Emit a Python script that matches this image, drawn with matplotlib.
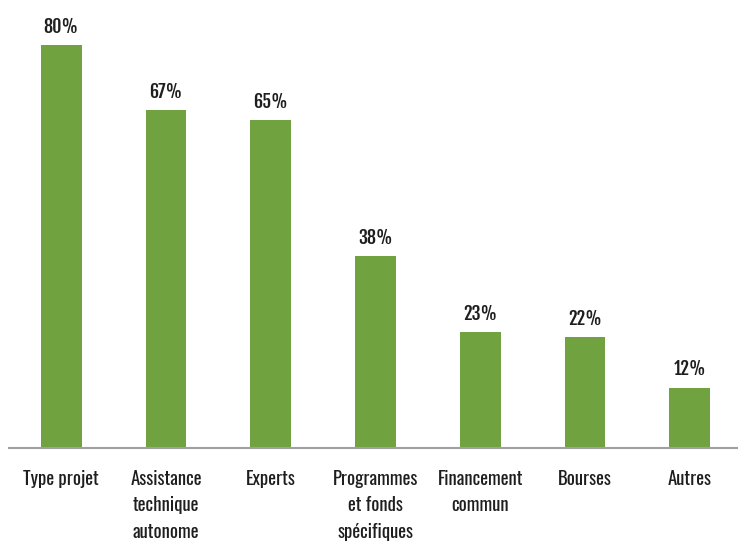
import matplotlib.pyplot as plt

categories = ["Type projet", "Assistance\ntechnique\nautonome", "Experts",
              "Programmes\net fonds\nspécifiques", "Financement\ncommun",
              "Bourses", "Autres"]
values = [80, 67, 65, 38, 23, 22, 12]

plt.rcParams['font.family'] = ["Oswald", "DejaVu Sans"]

green = "#70a33f"
ink = "#1e1e1e"

fig = plt.figure(figsize=(7.38, 5.46), dpi=100)
ax = fig.add_axes([0.012, 0.1795, 0.988, 0.8205])

x = list(range(len(values)))
ax.bar(x, values, width=0.39, color=green, zorder=2)

# percentage labels above each bar
for xi, v in zip(x, values):
    ax.text(xi, v + 2.4, f"{v}%", ha="center", va="baseline",
            family=["Fjalla One", "DejaVu Sans"], fontsize=13, color=ink)

ax.set_xlim(-0.5, 6.46)
ax.set_ylim(0, 88.9)
ax.set_xticks(x)
ax.set_xticklabels(categories, fontsize=13.5, fontweight="light", color=ink, linespacing=1.55)
ax.tick_params(axis="x", length=0, pad=16)
ax.set_yticks([])
for s in ["top", "right", "left"]:
    ax.spines[s].set_visible(False)
ax.spines["bottom"].set_color("#a0a0a0")
ax.spines["bottom"].set_linewidth(1.5)

fig.savefig("out.png", dpi=100)
